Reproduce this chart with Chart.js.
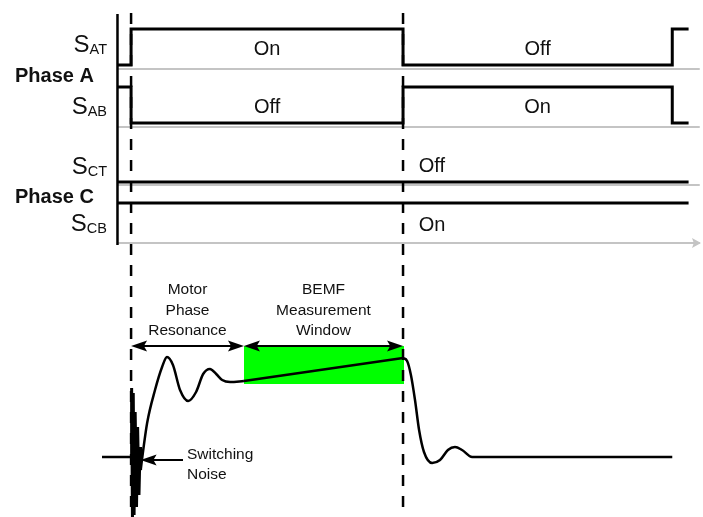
<!DOCTYPE html>
<html>
<head>
<meta charset="utf-8">
<title>Six-step commutation and BEMF measurement window</title>
<script src="https://cdn.jsdelivr.net/npm/chart.js@4.4.1/dist/chart.umd.min.js"></script>
<style>
  html, body { margin: 0; padding: 0; background: #ffffff; }
  #wrap { width: 703px; height: 517px; }
</style>
</head>
<body>
<div id="wrap"><canvas id="timing" width="703" height="517"></canvas></div>
<script>
// ---- Switch states over one commutation period (time units, 0 = commutation) ----
const switchTimes = [-5, 0, 100, 199, 205];
const satLevels = [0, 1, 0, 1, 1];
const sabLevels = [1, 0, 1, 0, 0];
const sctLevels = [0, 0, 0, 0, 0];
const scbLevels = [1, 1, 1, 1, 1];

const signalSubs = ['AT', 'AB', 'CT', 'CB'];
const phaseNames = ['Phase A', 'Phase C'];
const stateTextA = [['On', 'Off'], ['Off', 'On']];
const stateTextC = ['Off', 'On'];

// ---- Floating phase voltage (arbitrary units, 0 = idle level) ----
const idleTimes = [-10.7, 0];
const idleVolts = [0, 0];
const noiseTimes = [0, 0.2, 0.5, 0.8, 1.1, 1.5, 2.0, 2.4, 2.9, 3.3, 3.5];
const noiseVolts = [0, 69, -60, 64, -58, 45, -50, 30, -38, 10, -13];
const ringTimes = [3.5, 5.9, 8.8, 11.4, 13.2, 15.4, 18.0, 21.0, 23.9, 26.5, 29.0, 31.3, 33.5, 36.4, 41.5];
const ringVolts = [-13, 34, 67, 90, 100, 92, 67, 56, 65, 83, 88, 83, 77, 75, 76];
const bemfTimes = [41.5, 100];
const bemfVolts = [76, 99];
const decayTimes = [100, 101.5, 102.9, 104.4, 105.9, 107.7, 110.7, 113.6, 116.5, 119.1, 121.7, 125.4, 199];
const decayVolts = [99, 96, 82, 57, 27, 5, -6, -3, 7, 10, 7, 0, 0];

// BEMF window and its level band
const resonanceEnd = 41.5;
const windowEnd = 100;
const windowBand = [73, 111];
const windowLabel = ['BEMF', 'Measurement', 'Window'];
const resonanceLabel = ['Motor', 'Phase', 'Resonance'];
const noiseLabel = ['Switching', 'Noise'];

// ---- Layout (diagram units from the top edge) ----
const H = 517;
const rowHigh = [29, 87, 146, 203];
const swing = 36;
const guideOffset = [4, 4, 3, 4];
const nameBaseline = [52, 114, 174, 231];
const phaseBaseline = [82, 203];
const traceBase = 457;
const FONT = '"Liberation Sans", Arial, Helvetica, sans-serif';

const pts = (xs, ys) => xs.map((t, i) => ({ x: t, y: ys[i] }));
const rowPts = (levels, r) => switchTimes.map((t, i) => ({ x: t, y: rowHigh[r] + (1 - levels[i]) * swing }));

const xMin = -48.2, xMax = 210.3;

const black = '#000000';
const gray = '#c4c4c4';

const datasets = [];
// light guide lines under each switch row
rowHigh.forEach((h, r) => {
  const gy = h + swing + guideOffset[r];
  datasets.push({ data: [{ x: switchTimes[0], y: gy }, { x: xMax - 1.2, y: gy }], yAxisID: 'y',
    borderColor: gray, borderWidth: 2, order: 6 });
});
// switch traces
[satLevels, sabLevels, sctLevels, scbLevels].forEach((lv, r) => {
  datasets.push({ data: rowPts(lv, r), yAxisID: 'y', stepped: 'before',
    borderColor: black, borderWidth: 3, order: 1 });
});
// vertical axis of the switch rows
datasets.push({ data: [{ x: switchTimes[0], y: 14 }, { x: switchTimes[0], y: 245 }], yAxisID: 'y',
  borderColor: black, borderWidth: 2.5, order: 2 });
// commutation markers
[0, windowEnd].forEach(t => {
  datasets.push({ data: [{ x: t, y: 13 }, { x: t, y: H }], yAxisID: 'y',
    borderColor: black, borderWidth: 2.5, borderDash: [11, 10], order: 3 });
});
// BEMF measurement window
datasets.push({ data: [{ x: resonanceEnd, y: windowBand[1] }, { x: windowEnd + 0.4, y: windowBand[1] }], yAxisID: 'yV',
  borderWidth: 0, borderColor: 'rgba(0,0,0,0)', backgroundColor: '#00ff00', fill: { value: windowBand[0] }, order: 5 });
// phase voltage
datasets.push({ data: pts(idleTimes, idleVolts), yAxisID: 'yV', borderColor: black, borderWidth: 2.5, order: 1 });
datasets.push({ data: pts(noiseTimes, noiseVolts), yAxisID: 'yV', borderColor: black, borderWidth: 3, order: 1 });
datasets.push({ data: pts(ringTimes, ringVolts), yAxisID: 'yV', borderColor: black, borderWidth: 2.5,
  cubicInterpolationMode: 'monotone', order: 1 });
datasets.push({ data: pts(bemfTimes, bemfVolts), yAxisID: 'yV', borderColor: black, borderWidth: 2.5, order: 1 });
datasets.push({ data: pts(decayTimes, decayVolts), yAxisID: 'yV', borderColor: black, borderWidth: 2.5,
  cubicInterpolationMode: 'monotone', order: 1 });

function arrowHead(ctx, tipX, tipY, dir, len, half) {
  ctx.beginPath();
  ctx.moveTo(tipX, tipY);
  ctx.lineTo(tipX - dir * len, tipY - half);
  ctx.lineTo(tipX - dir * len * 0.8, tipY);
  ctx.lineTo(tipX - dir * len, tipY + half);
  ctx.closePath();
  ctx.fill();
}

const diagramText = {
  id: 'diagramText',
  afterDatasetsDraw(chart) {
    const { ctx, scales } = chart;
    const X = scales.x, V = scales.yV;
    ctx.save();
    ctx.fillStyle = '#111111';
    ctx.strokeStyle = black;

    // signal names with subscripts, right aligned to the axis
    const right = 107;
    signalSubs.forEach((sub, r) => {
      ctx.font = '14.5px ' + FONT;
      const wSub = ctx.measureText(sub).width;
      ctx.textAlign = 'left';
      ctx.textBaseline = 'alphabetic';
      ctx.fillText(sub, right - wSub, nameBaseline[r] + 2);
      ctx.font = '24px ' + FONT;
      const wS = ctx.measureText('S').width;
      ctx.fillText('S', right - wSub - wS, nameBaseline[r]);
    });
    ctx.font = 'bold 20px ' + FONT;
    ctx.textAlign = 'left';
    phaseNames.forEach((p, i) => ctx.fillText(p, 15, phaseBaseline[i]));

    // switch states
    ctx.font = '20px ' + FONT;
    ctx.textAlign = 'center';
    stateTextA.forEach((pair, r) => {
      ctx.fillText(pair[0], X.getPixelForValue((switchTimes[1] + switchTimes[2]) / 2), rowHigh[r] + 26);
      ctx.fillText(pair[1], X.getPixelForValue((switchTimes[2] + switchTimes[3]) / 2), rowHigh[r] + 26);
    });
    ctx.textAlign = 'left';
    ctx.fillText(stateTextC[0], X.getPixelForValue(switchTimes[2] + 5.8), rowHigh[2] + 26);
    ctx.fillText(stateTextC[1], X.getPixelForValue(switchTimes[2] + 5.8), rowHigh[3] + 28);

    // time arrow at the foot of the switch rows
    ctx.fillStyle = gray;
    const ay = rowHigh[3] + swing + guideOffset[3];
    arrowHead(ctx, X.getPixelForValue(xMax) - 2, ay, 1, 9, 5);

    // interval arrows
    ctx.fillStyle = black;
    ctx.lineWidth = 2;
    const by = V.getPixelForValue(windowBand[1]);
    [[0, resonanceEnd], [resonanceEnd, windowEnd]].forEach(([a, b]) => {
      const xa = X.getPixelForValue(a), xb = X.getPixelForValue(b);
      ctx.beginPath();
      ctx.moveTo(xa + 6, by);
      ctx.lineTo(xb - 6, by);
      ctx.stroke();
      arrowHead(ctx, xa, by, -1, 16, 5.5);
      arrowHead(ctx, xb, by, 1, 16, 5.5);
    });

    // interval captions
    ctx.fillStyle = '#111111';
    ctx.font = '15.5px ' + FONT;
    ctx.textAlign = 'center';
    const capBase = [294, 315, 335];
    resonanceLabel.forEach((s, i) => ctx.fillText(s, X.getPixelForValue(resonanceEnd / 2), capBase[i]));
    windowLabel.forEach((s, i) => ctx.fillText(s, X.getPixelForValue((resonanceEnd + windowEnd) / 2), capBase[i]));

    // switching noise callout
    const ny = V.getPixelForValue(-3);
    ctx.fillStyle = black;
    ctx.beginPath();
    ctx.moveTo(183, ny);
    ctx.lineTo(X.getPixelForValue(3.5) + 12, ny);
    ctx.stroke();
    arrowHead(ctx, X.getPixelForValue(3.5), ny, -1, 16, 5.5);
    ctx.fillStyle = '#111111';
    ctx.textAlign = 'left';
    ctx.fillText(noiseLabel[0], 187, 459);
    ctx.fillText(noiseLabel[1], 187, 479);
    ctx.restore();
  }
};

new Chart(document.getElementById('timing'), {
  type: 'line',
  data: { datasets },
  options: {
    responsive: false,
    animation: false,
    devicePixelRatio: 1,
    layout: { padding: 0 },
    elements: { point: { radius: 0, hoverRadius: 0 }, line: { tension: 0, fill: false, borderCapStyle: 'butt' } },
    plugins: { legend: { display: false }, tooltip: { enabled: false }, title: { display: false } },
    events: [],
    scales: {
      x: { type: 'linear', min: xMin, max: xMax, display: false },
      y: { type: 'linear', min: 0, max: H, reverse: true, display: false },
      yV: { type: 'linear', min: -(H - traceBase), max: traceBase, display: false }
    }
  },
  plugins: [diagramText]
});
</script>
</body>
</html>
